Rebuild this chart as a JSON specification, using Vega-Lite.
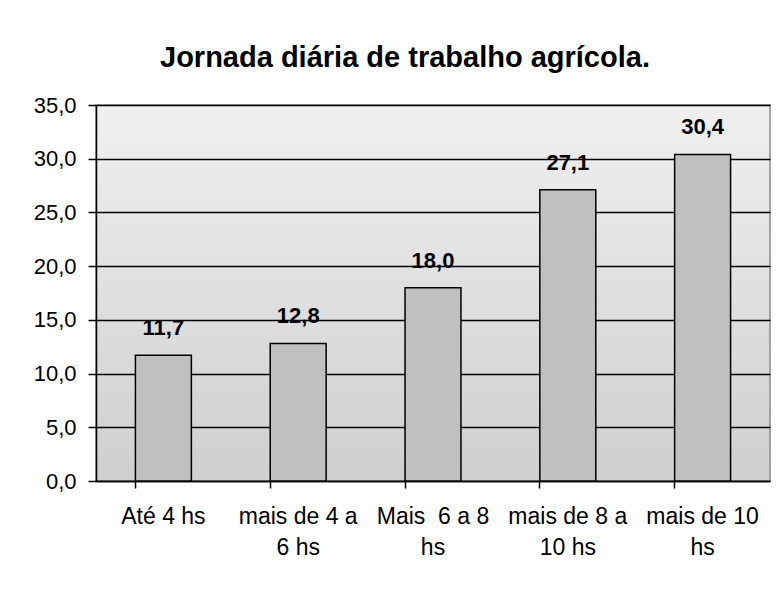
{
  "$schema": "https://vega.github.io/schema/vega-lite/v6.json",
  "width": 674,
  "height": 376,
  "autosize": "none",
  "padding": {"left": 96, "top": 105, "right": 6, "bottom": 111},
  "background": "white",
  "config": {
    "locale": {"number": {"decimal": ",", "thousands": ".", "grouping": [3], "currency": ["R$", ""]}},
    "font": "Liberation Sans",
    "view": {
      "stroke": "#8a8a8a",
      "strokeWidth": 1.5,
      "fill": {"gradient": "linear", "x1": 0, "y1": 0, "x2": 0, "y2": 1, "stops": [{"offset": 0, "color": "#f0f0f0"}, {"offset": 1, "color": "#cfcfcf"}]}
    }
  },
  "title": {
    "text": "Jornada diária de trabalho agrícola.",
    "fontSize": 29,
    "fontWeight": "bold",
    "color": "black",
    "font": "Liberation Sans",
    "anchor": "middle",
    "dx": -28,
    "offset": 21
  },
  "data": {
    "values": [
      {"jornada": "Até 4 hs", "pct": 11.7},
      {"jornada": "mais de 4 a 6 hs", "pct": 12.8},
      {"jornada": "Mais  6 a 8 hs", "pct": 18.0},
      {"jornada": "mais de 8 a 10 hs", "pct": 27.1},
      {"jornada": "mais de 10 hs", "pct": 30.4}
    ]
  },
  "encoding": {
    "x": {
      "field": "jornada",
      "type": "nominal",
      "sort": null,
      "scale": {"paddingInner": 0.585, "paddingOuter": 0.2925},
      "axis": {
        "title": null,
        "labelAngle": 0,
        "labelFontSize": 23,
        "labelColor": "black",
        "labelPadding": 17,
        "labelLineHeight": 31,
        "labelBaseline": "top",
        "bandPosition": 0,
        "tickSize": 7,
        "tickColor": "black",
        "tickWidth": 1.5,
        "domainColor": "black",
        "domainWidth": 1.5,
        "grid": false,
        "labelExpr": "datum.value == 'mais de 4 a 6 hs' ? ['mais de 4 a', '6 hs'] : datum.value == 'Mais  6 a 8 hs' ? ['Mais\u00a0\u00a06 a 8', 'hs'] : datum.value == 'mais de 8 a 10 hs' ? ['mais de 8 a', '10 hs'] : datum.value == 'mais de 10 hs' ? ['mais de 10', 'hs'] : datum.value"
      }
    },
    "y": {
      "field": "pct",
      "type": "quantitative",
      "scale": {"domain": [0, 35], "nice": false},
      "axis": {
        "title": null,
        "values": [0, 5, 10, 15, 20, 25, 30, 35],
        "format": ".1f",
        "labelFontSize": 22,
        "labelColor": "black",
        "labelPadding": 12,
        "tickSize": 8,
        "tickColor": "black",
        "tickWidth": 1.5,
        "domainColor": "black",
        "domainWidth": 1.5,
        "grid": true,
        "gridColor": "black",
        "gridWidth": 1.5,
        "gridOpacity": 1
      }
    }
  },
  "layer": [
    {
      "mark": {"type": "bar", "fill": "#c0c0c0", "stroke": "black", "strokeWidth": 1.5}
    },
    {
      "mark": {"type": "text", "baseline": "alphabetic", "dy": -20, "fontSize": 22, "fontWeight": "bold", "color": "black"},
      "encoding": {"text": {"field": "pct", "type": "quantitative", "format": ".1f"}}
    }
  ]
}
